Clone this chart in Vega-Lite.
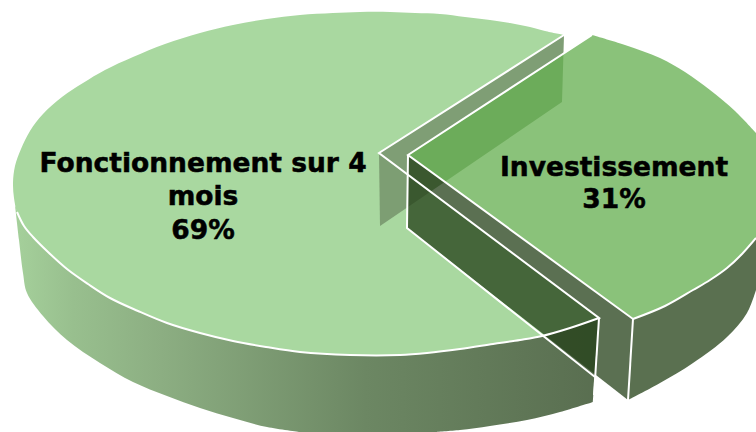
{
"$schema":"https://vega.github.io/schema/vega-lite/v6.json",
"width":756,"height":432,
"autosize":{"type":"none"},
"padding":0,
"background":"white",
"view":{"stroke":null},
"encoding":{
"x":{"field":"x","type":"quantitative","scale":{"domain":[0,756]},"axis":null},
"y":{"field":"y","type":"quantitative","scale":{"domain":[432,0]},"axis":null},
"order":{"field":"i"}
},
"datasets":{
"sideMain":[{"x":15,"y":205},{"x":15,"y":205},{"x":24,"y":226},{"x":33,"y":237},{"x":48,"y":252},{"x":67,"y":269},{"x":88,"y":284},{"x":110,"y":298},{"x":138,"y":311},{"x":167,"y":323},{"x":200,"y":333},{"x":233,"y":341},{"x":266,"y":347},{"x":300,"y":352},{"x":350,"y":355},{"x":400,"y":355},{"x":427,"y":353},{"x":460,"y":349},{"x":493,"y":344},{"x":520,"y":340},{"x":542,"y":336},{"x":570,"y":328},{"x":599,"y":318},{"x":599,"y":318},{"x":593,"y":402},{"x":593,"y":402},{"x":560,"y":412},{"x":527,"y":420},{"x":490,"y":426},{"x":460,"y":430},{"x":435,"y":432},{"x":435,"y":432},{"x":300,"y":432},{"x":300,"y":432},{"x":267,"y":427},{"x":233,"y":418},{"x":200,"y":408},{"x":167,"y":396},{"x":133,"y":382},{"x":100,"y":363},{"x":67,"y":340},{"x":43,"y":316},{"x":27,"y":293},{"x":23,"y":273},{"x":19,"y":240},{"x":15,"y":205},{"x":15,"y":205}],
"topMain":[{"x":379,"y":153},{"x":379,"y":153},{"x":564,"y":35},{"x":564,"y":35},{"x":545,"y":31},{"x":530,"y":27},{"x":510,"y":23},{"x":490,"y":20},{"x":465,"y":17},{"x":440,"y":14},{"x":415,"y":13},{"x":390,"y":12},{"x":360,"y":12},{"x":333,"y":13},{"x":300,"y":15},{"x":267,"y":19},{"x":233,"y":25},{"x":200,"y":33},{"x":165,"y":44},{"x":133,"y":57},{"x":105,"y":70},{"x":83,"y":83},{"x":62,"y":97},{"x":43,"y":114},{"x":30,"y":131},{"x":21,"y":149},{"x":15,"y":166},{"x":13,"y":183},{"x":14,"y":198},{"x":17,"y":212},{"x":24,"y":226},{"x":33,"y":237},{"x":48,"y":252},{"x":67,"y":269},{"x":88,"y":284},{"x":110,"y":298},{"x":138,"y":311},{"x":167,"y":323},{"x":200,"y":333},{"x":233,"y":341},{"x":266,"y":347},{"x":300,"y":352},{"x":350,"y":355},{"x":400,"y":355},{"x":427,"y":353},{"x":460,"y":349},{"x":493,"y":344},{"x":520,"y":340},{"x":542,"y":336},{"x":570,"y":328},{"x":599,"y":318},{"x":599,"y":318},{"x":379,"y":153},{"x":379,"y":153}],
"wallBack":[{"x":379,"y":153},{"x":564,"y":35},{"x":562,"y":102},{"x":380,"y":226},{"x":379,"y":153}],
"wallCut":[{"x":408,"y":155},{"x":633,"y":319},{"x":628,"y":400},{"x":407,"y":228},{"x":408,"y":155}],
"sideInv":[{"x":633,"y":319},{"x":633,"y":319},{"x":665,"y":306},{"x":693,"y":290},{"x":710,"y":280},{"x":727,"y":268},{"x":742,"y":254},{"x":756,"y":238},{"x":756,"y":238},{"x":756,"y":290},{"x":756,"y":290},{"x":747,"y":313},{"x":727,"y":337},{"x":693,"y":363},{"x":660,"y":383},{"x":628,"y":400},{"x":628,"y":400},{"x":633,"y":319},{"x":633,"y":319}],
"topInv":[{"x":408,"y":155},{"x":408,"y":155},{"x":592,"y":35},{"x":592,"y":35},{"x":625,"y":45},{"x":660,"y":58},{"x":685,"y":72},{"x":710,"y":90},{"x":735,"y":111},{"x":756,"y":133},{"x":756,"y":133},{"x":756,"y":238},{"x":756,"y":238},{"x":742,"y":254},{"x":727,"y":268},{"x":710,"y":280},{"x":693,"y":290},{"x":665,"y":306},{"x":633,"y":319},{"x":633,"y":319},{"x":408,"y":155},{"x":408,"y":155}],
"edges":[
{"e":"a","x":17,"y":212},{"e":"a","x":24,"y":226},{"e":"a","x":33,"y":237},{"e":"a","x":48,"y":252},{"e":"a","x":67,"y":269},{"e":"a","x":88,"y":284},{"e":"a","x":110,"y":298},{"e":"a","x":138,"y":311},{"e":"a","x":167,"y":323},{"e":"a","x":200,"y":333},{"e":"a","x":233,"y":341},{"e":"a","x":266,"y":347},{"e":"a","x":300,"y":352},{"e":"a","x":350,"y":355},{"e":"a","x":400,"y":355},{"e":"a","x":427,"y":353},{"e":"a","x":460,"y":349},{"e":"a","x":493,"y":344},{"e":"a","x":520,"y":340},{"e":"a","x":542,"y":336},{"e":"a","x":570,"y":328},{"e":"a","x":599,"y":318},{"e":"a","x":599,"y":318},{"e":"a","x":379,"y":153},{"e":"a","x":379,"y":153},{"e":"a","x":564,"y":35},
{"e":"b","x":599,"y":318},{"e":"b","x":594,"y":395},
{"e":"c","x":592,"y":35},{"e":"c","x":408,"y":155},{"e":"c","x":408,"y":155},{"e":"c","x":633,"y":319},{"e":"c","x":633,"y":319},{"e":"c","x":665,"y":306},{"e":"c","x":693,"y":290},{"e":"c","x":710,"y":280},{"e":"c","x":727,"y":268},{"e":"c","x":742,"y":254},{"e":"c","x":756,"y":238},
{"e":"d","x":633,"y":319},{"e":"d","x":628,"y":400},
{"e":"f","x":408,"y":155},{"e":"f","x":407,"y":228},{"e":"f","x":407,"y":228},{"e":"f","x":595,"y":377}
],
"labels":[
{"t":"Fonctionnement sur 4","x":203,"y":172},
{"t":"mois","x":203,"y":205},
{"t":"69%","x":203,"y":239},
{"t":"Investissement","x":614,"y":176},
{"t":"31%","x":614,"y":208}
]
},
"layer":[
{"data":{"name":"sideMain"},
 "mark":{"type":"line","interpolate":"catmull-rom","filled":true,"strokeWidth":0,"fill":{"gradient":"linear","x1":0,"y1":0,"x2":1,"y2":0,"stops":[{"offset":0,"color":"#a5d09b"},{"offset":0.1,"color":"#98bf8e"},{"offset":0.25,"color":"#8cae82"},{"offset":0.6,"color":"#6c8763"},{"offset":1,"color":"#596e50"}]}}},
{"data":{"name":"topMain"},"mark":{"type":"line","interpolate":"catmull-rom","filled":true,"strokeWidth":0,"fill":"#a9d8a0"}},
{"data":{"name":"wallBack"},"mark":{"type":"line","filled":true,"strokeWidth":0,"fill":"#7c9c72","fillOpacity":0.98}},
{"data":{"name":"wallCut"},"mark":{"type":"line","filled":true,"strokeWidth":0,"fill":"#244018","fillOpacity":0.75}},
{"data":{"name":"sideInv"},"mark":{"type":"line","interpolate":"catmull-rom","filled":true,"strokeWidth":0,"fill":"#5a7050"}},
{"data":{"name":"topInv"},"mark":{"type":"line","interpolate":"catmull-rom","filled":true,"strokeWidth":0,"fill":"#67b052","fillOpacity":0.77}},
{"data":{"name":"edges"},"mark":{"type":"line","interpolate":"catmull-rom","stroke":"white","strokeWidth":2,"strokeJoin":"miter"},"encoding":{"detail":{"field":"e"}}},
{"data":{"name":"labels"},"mark":{"type":"text","font":"DejaVu Sans","fontWeight":"bold","fontSize":26.5,"align":"center","baseline":"alphabetic","fill":"black","stroke":"black","strokeWidth":0.5},"encoding":{"text":{"field":"t"}}}
]
}
